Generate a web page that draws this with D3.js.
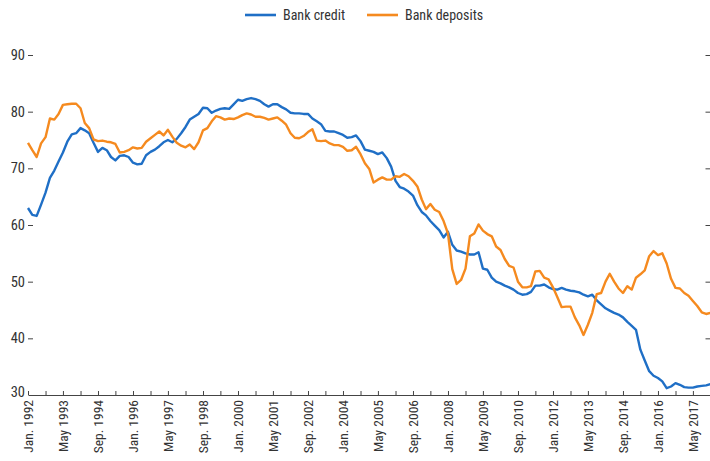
<!DOCTYPE html>
<html>
<head>
<meta charset="utf-8">
<script src="https://cdn.jsdelivr.net/npm/d3@7"></script>
<style>
  html, body { margin: 0; padding: 0; background: #fff; }
  svg { display: block; }
  text { font-family: "Liberation Sans Narrow", "Arial Narrow", "Roboto Condensed", "DejaVu Sans Condensed", sans-serif; fill: #333; }
</style>
</head>
<body>
<svg id="chart" width="710" height="461"></svg>
<script>
// Bi-monthly observations, Jan. 1992 to Jan. 2018
const startMonth = "1992-01";
const stepMonths = 2;

const bankCredit = [
  63.0, 61.8, 61.6, 63.6, 65.7, 68.3, 69.6, 71.2, 72.8, 74.7,
  76.0, 76.2, 77.1, 76.7, 76.2, 74.5, 72.9, 73.6, 73.2, 72.0,
  71.4, 72.2, 72.3, 72.0, 71.0, 70.7, 70.8, 72.3, 72.9, 73.3,
  73.9, 74.6, 75.0, 74.6, 75.2, 76.2, 77.3, 78.6, 79.1, 79.6,
  80.7, 80.6, 79.8, 80.2, 80.5, 80.6, 80.5, 81.3, 82.1, 81.9,
  82.2, 82.4, 82.2, 81.9, 81.3, 80.9, 81.3, 81.3, 80.8, 80.4,
  79.8, 79.7, 79.7, 79.6, 79.6, 78.8, 78.3, 77.8, 76.6, 76.5,
  76.5, 76.2, 75.9, 75.4, 75.5, 75.8, 74.8, 73.3, 73.1, 72.9,
  72.5, 72.8, 71.8, 70.3, 67.8, 66.7, 66.4, 65.9, 65.2, 63.5,
  62.3, 61.7, 60.7, 59.9, 59.1, 57.8, 58.8, 56.5, 55.5, 55.3,
  55.0, 54.8, 54.8, 55.2, 52.3, 52.1, 50.7, 50.0, 49.7, 49.3,
  49.0, 48.6, 48.0, 47.7, 47.8, 48.2, 49.3, 49.3, 49.5, 49.0,
  48.7, 48.6, 48.9, 48.6, 48.4, 48.3, 48.1, 47.7, 47.4, 47.7,
  46.7, 46.0, 45.3, 44.9, 44.5, 44.2, 43.7, 42.9, 42.2, 41.5,
  38.0, 36.1, 34.2, 33.4, 33.0, 32.4, 31.2, 31.5, 32.1, 31.8,
  31.4, 31.3, 31.3, 31.5, 31.6, 31.7, 31.9
];

const bankDeposits = [
  74.5, 73.2, 72.0, 74.4, 75.5, 78.8, 78.6, 79.6, 81.2, 81.3,
  81.4, 81.4, 80.6, 78.0, 77.1, 75.1, 74.8, 74.9, 74.7, 74.6,
  74.3, 72.8, 72.9, 73.2, 73.7, 73.5, 73.6, 74.7, 75.3, 75.9,
  76.5, 75.8, 76.8, 75.6, 74.5, 74.0, 73.7, 74.2, 73.4, 74.6,
  76.7, 77.1, 78.3, 79.2, 79.0, 78.6, 78.8, 78.7, 79.0, 79.4,
  79.7, 79.5, 79.1, 79.1, 78.9, 78.6, 78.8, 79.0, 78.4, 77.7,
  76.2, 75.4, 75.3, 75.7, 76.4, 76.9, 74.9, 74.8, 74.9, 74.4,
  74.1, 74.1, 73.8, 73.1, 73.2, 73.8, 72.5, 70.9, 69.9, 67.5,
  68.0, 68.4, 68.0, 68.0, 68.6, 68.5, 69.0, 68.6, 67.8, 66.8,
  64.5, 62.8, 63.7, 62.7, 62.3, 60.7, 58.5, 52.2, 49.6, 50.3,
  52.3, 58.0, 58.5, 60.1, 59.0, 58.4, 58.0, 56.2, 55.6, 54.0,
  52.8, 52.5, 50.0, 49.0, 49.0, 49.2, 51.8, 51.9, 50.7, 50.4,
  49.0, 47.3, 45.5, 45.6, 45.6, 43.7, 42.3, 40.6, 42.4, 44.5,
  47.8, 48.0, 50.0, 51.4, 50.0, 48.8, 48.0, 49.2, 48.6, 50.7,
  51.3, 52.0, 54.5, 55.4, 54.7, 55.0, 53.2, 50.5, 48.9, 48.8,
  48.0, 47.5, 46.6, 45.7, 44.6, 44.3, 44.5
];

const seriesNames = ["Bank credit", "Bank deposits"];
const seriesColors = ["#1f6fc6", "#f58a1f"];

const yTicks = [30, 40, 50, 60, 70, 80, 90];
const xTickLabels = [
  "Jan. 1992", "May 1993", "Sep. 1994", "Jan. 1996", "May 1997",
  "Sep. 1998", "Jan. 2000", "May 2001", "Sep. 2002", "Jan. 2004",
  "May 2005", "Sep. 2006", "Jan. 2008", "May 2009", "Sep. 2010",
  "Jan. 2012", "May 2013", "Sep. 2014", "Jan. 2016", "May 2017"
];
const tickStepMonths = 8;

// ---------- drawing ----------
(function draw() {
  const svg = d3.select("#chart");
  const parse = d3.timeParse("%Y-%m");
  const t0 = parse(startMonth);
  const dates = bankCredit.map((_, i) => d3.timeMonth.offset(t0, i * stepMonths));
  const tEnd = dates[dates.length - 1];

  const pl = 28, pr = 710.5, pt = 55, pb = 395;
  const x = d3.scaleTime().domain([t0, tEnd]).range([pl, pr]);
  const y = d3.scaleLinear().domain([30, 90]).range([pb, pt]);

  const tickDates = [];
  for (let d = t0; d <= tEnd; d = d3.timeMonth.offset(d, tickStepMonths)) tickDates.push(d);

  const xAxis = d3.axisBottom(x)
    .tickValues(tickDates)
    .tickSize(-4)
    .tickSizeOuter(0)
    .tickFormat("");
  const gx = svg.append("g").attr("transform", `translate(0,${pb})`).call(xAxis);
  gx.select(".domain").attr("stroke", "#444").attr("stroke-width", 1.2);
  gx.selectAll(".tick line").attr("stroke", "#444").attr("stroke-width", 1);

  const labelDates = tickDates.filter((_, i) => i % 2 === 0);
  svg.append("g").selectAll("text")
    .data(xTickLabels)
    .join("text")
    .attr("transform", (d, i) => `translate(${x(labelDates[i])},${pb + 5}) rotate(-90)`)
    .attr("text-anchor", "end")
    .attr("dy", "0.35em")
    .style("font-size", "13.5px")
    .text(d => d);

  const gyL = svg.append("g").attr("transform", `translate(${pl},0)`)
    .call(d3.axisRight(y).tickValues(yTicks.filter(v => v > 30)).tickSize(5).tickFormat(""));
  gyL.select(".domain").remove();
  gyL.selectAll(".tick line").attr("stroke", "#444").attr("stroke-width", 1);

  const gyR = svg.append("g").attr("transform", `translate(${pr},0)`)
    .call(d3.axisLeft(y).tickValues(yTicks.filter(v => v > 30)).tickSize(5).tickFormat(""));
  gyR.select(".domain").remove();
  gyR.selectAll(".tick line").attr("stroke", "#444").attr("stroke-width", 1);

  svg.append("g").selectAll("text")
    .data(yTicks)
    .join("text")
    .attr("x", pl - 3)
    .attr("y", d => y(d) - (d === 30 ? 3 : 0))
    .attr("dy", "0.35em")
    .attr("text-anchor", "end")
    .style("font-size", "14.5px")
    .text(d => d);

  const line = d3.line().x((d, i) => x(dates[i])).y(d => y(d));
  [bankCredit, bankDeposits].forEach((s, k) => {
    svg.append("path")
      .datum(s)
      .attr("fill", "none")
      .attr("stroke", seriesColors[k])
      .attr("stroke-width", 2.4)
      .attr("stroke-linejoin", "round")
      .attr("d", line);
  });

  const legendX = [245, 367];
  const lg = svg.append("g");
  seriesNames.forEach((name, k) => {
    lg.append("line")
      .attr("x1", legendX[k]).attr("x2", legendX[k] + 31)
      .attr("y1", 15).attr("y2", 15)
      .attr("stroke", seriesColors[k]).attr("stroke-width", 2.6);
    lg.append("text")
      .attr("x", legendX[k] + 38).attr("y", 15).attr("dy", "0.35em")
      .style("font-size", "14px")
      .text(name);
  });
})();
</script>
</body>
</html>
